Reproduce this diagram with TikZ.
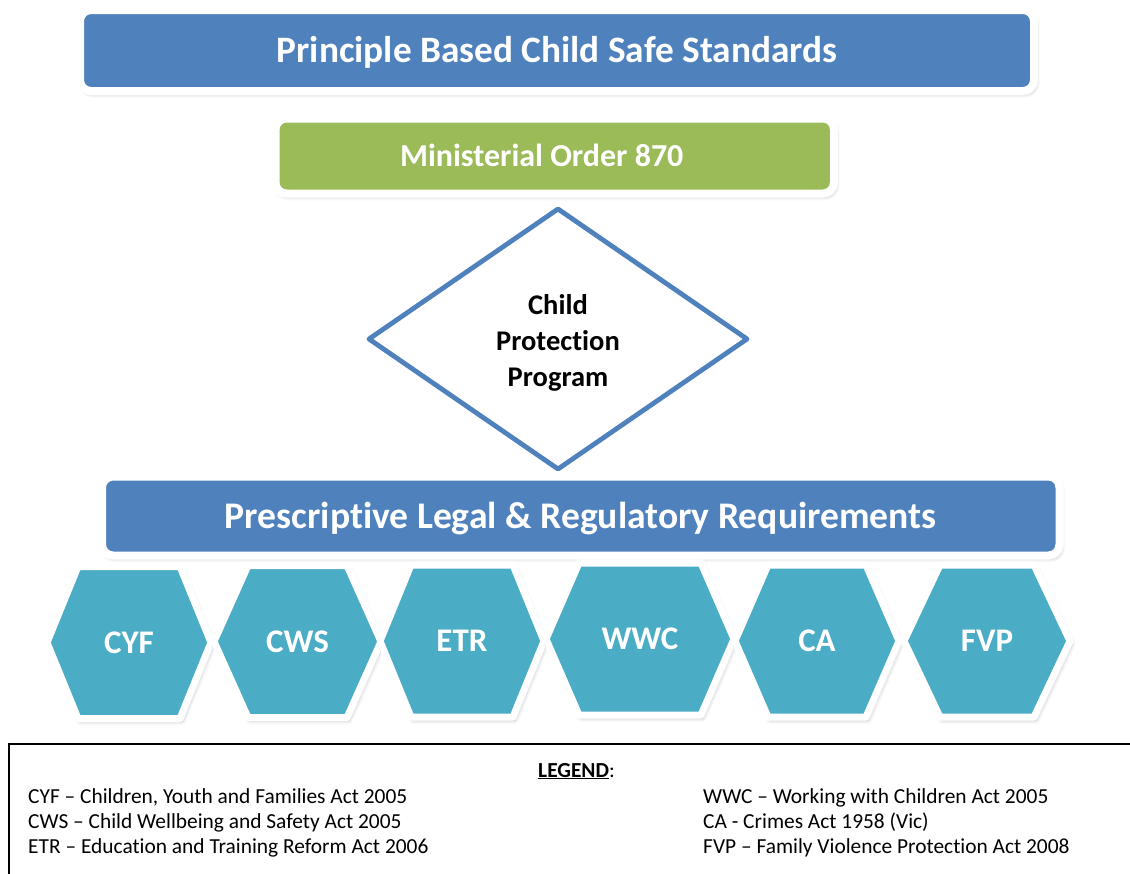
\documentclass[tikz,border=0pt]{standalone}
\usepackage{fontspec}
\setmainfont[Ligatures=NoCommon]{Carlito}
\usetikzlibrary{shapes.geometric,shadows.blur,calc}
\definecolor{hdrblue}{HTML}{4F81BD}
\definecolor{mogreen}{HTML}{9BBB59}
\definecolor{hexteal}{HTML}{4BACC6}
\newcommand\hexitem[7]{%
  \path[hexshape] (#2-#4,#3) -- (#2-#4+#5,#3-#6) -- (#2+#4-#5,#3-#6) -- (#2+#4,#3)
     -- (#2+#4-#5,#3+#6) -- (#2-#4+#5,#3+#6) -- cycle;
  \node[hexlabel] (#1) at (#2,#3) {#7};}
\begin{document}
\begin{tikzpicture}[x=1pt,y=-1pt,
  softshadow/.style={blur shadow={shadow xshift=2pt,shadow yshift=-3pt,shadow blur radius=4pt,shadow opacity=30}},
  banner/.style={rounded corners=11pt, draw=white, line width=8pt, text=white,
     font=\bfseries\fontsize{37.3}{44}\selectfont, inner sep=0pt,
     text height=24pt, text depth=0pt, softshadow},
  cppbox/.style={diamond, draw=hdrblue, line width=4.8pt, line join=round, fill=white,
     inner sep=0pt, align=center, font=\bfseries\fontsize{28.5}{36}\selectfont},
  hexshape/.style={fill=hexteal, draw=white, line width=7pt, line join=round, softshadow},
  hexlabel/.style={text=white, font=\bfseries\fontsize{33}{38}\selectfont, inner sep=0pt,
     text height=21pt, text depth=0pt},
  legendtext/.style={anchor=base west, inner sep=0pt, font=\fontsize{21.4}{25}\selectfont},
  legendline/.style={draw=black, line width=1.8pt}
]
\useasboundingbox (0,0) rectangle (1130,873);

\node[banner, fill=hdrblue, minimum width=954pt, minimum height=81pt] (pbcss) at (557,50.5)
  {Principle Based Child Safe Standards};
\node[banner, fill=mogreen, font=\bfseries\fontsize{32}{37}\selectfont, text height=20.6pt,
  minimum width=558.5pt, minimum height=75pt] (mo870) at (554.75,156)
  {Ministerial Order 870\hspace*{26pt}};
\node[cppbox, minimum width=380pt, minimum height=262pt] (cpp) at (558,339) {};
\node[inner sep=0pt, align=center, font=\bfseries\fontsize{28.5}{36}\selectfont] (cpptext)
  at ($(cpp.center)+(0,4)$) {Child\\Protection\\Program};
\node[banner, fill=hdrblue, font=\bfseries\fontsize{37.6}{44}\selectfont,
  minimum width=957.5pt, minimum height=79pt] (plrr) at (580.75,516)
  {Prescriptive Legal \& Regulatory Requirements};

\hexitem{cyf}{129}{642.5}{82}{31}{76}{CYF}
\hexitem{cws}{297.5}{641.5}{83.5}{34}{76}{CWS}
\hexitem{etr}{462}{641}{82}{31}{76}{ETR}
\hexitem{wwc}{640}{639}{94}{33}{76}{WWC}
\hexitem{ca}{817}{641}{82}{33}{76}{CA}
\hexitem{fvp}{987}{641}{83}{36}{76}{FVP}

\coordinate (lgtr) at (1135,744);
\coordinate (lgtl) at (9,744);
\coordinate (lgbl) at (9,880);
\draw[legendline] (lgtr) -- (lgtl) -- (lgbl);

\node[legendtext] (lgd) at (538,777) {\textbf{\underline{LEGEND}}:};
\node[legendtext] (lcyf) at (28,803) {CYF – Children, Youth and Families Act 2005};
\node[legendtext] (lcws) at (28,828) {CWS – Child Wellbeing and Safety Act 2005};
\node[legendtext] (letr) at (28,853) {ETR – Education and Training Reform Act 2006};
\node[legendtext] (lwwc) at (703,803) {WWC – Working with Children Act 2005};
\node[legendtext] (lca) at (703,828) {CA - Crimes Act 1958 (Vic)};
\node[legendtext] (lfvp) at (703,853) {FVP – Family Violence Protection Act 2008};
\end{tikzpicture}
\end{document}
